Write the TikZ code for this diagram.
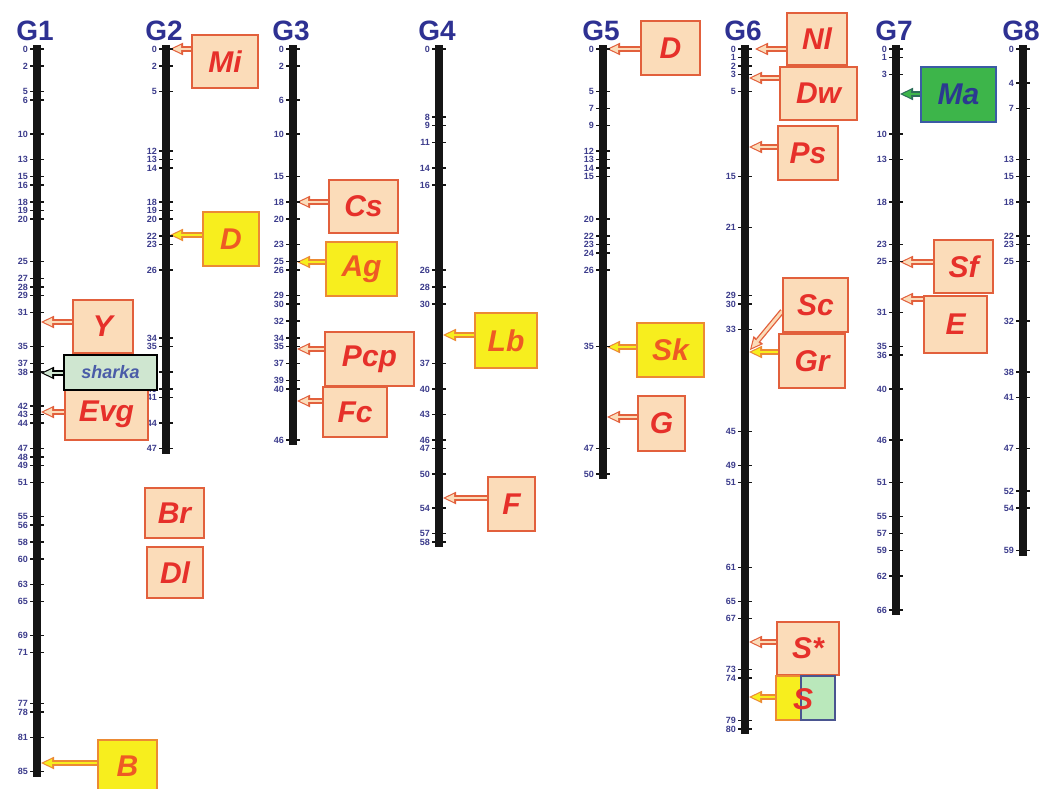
\documentclass[tikz,border=0pt]{standalone}
\usepackage{fontspec}
\setmainfont{Liberation Sans}
\usetikzlibrary{arrows.meta,backgrounds,calc}
\definecolor{navy}{HTML}{2E3192}
\definecolor{lbl}{HTML}{3C3C8C}
\definecolor{peach}{HTML}{FBDCB9}
\definecolor{pborder}{HTML}{E2603C}
\definecolor{ptext}{HTML}{E6302A}
\definecolor{ylw}{HTML}{F7EE1E}
\definecolor{yborder}{HTML}{EC8A34}
\definecolor{ytext}{HTML}{EE5A24}
\definecolor{lgreen}{HTML}{CFE6D0}
\definecolor{mgreen}{HTML}{3DB54A}
\definecolor{mblue}{HTML}{3B5BA5}
\definecolor{stext}{HTML}{4A5CA8}
\definecolor{matext}{HTML}{2B3990}
\definecolor{sgborder}{HTML}{4A5590}
\definecolor{barc}{HTML}{151515}
\definecolor{maarrow}{HTML}{2C6E5A}
\tikzset{
  chtitle/.style={font=\bfseries\fontsize{28}{28}\selectfont, text=navy, inner sep=0pt, anchor=base},
  cmlab/.style={font=\bfseries\fontsize{9}{9}\selectfont, text=lbl, anchor=east, inner sep=0pt},
  chbar/.style={fill=barc, draw=none},
  chtick/.style={line width=1.4pt, draw=barc},
  pbox/.style={draw=pborder, fill=peach, line width=1.3pt, text=ptext,
    font=\bfseries\itshape\fontsize{30}{30}\selectfont, inner sep=0pt},
  ybox/.style={pbox, draw=yborder, fill=ylw, text=ytext},
  shbox/.style={pbox, draw=black, line width=1.6pt, fill=lgreen, text=stext,
    font=\bfseries\itshape\fontsize{18}{18}\selectfont},
  mabox/.style={pbox, draw=mblue, fill=mgreen, text=matext},
  aouter/.style={line width=5.4pt, -{Triangle[length=13pt,width=12.5pt,line width=0pt]}},
  ainner/.style={line width=2.8pt, shorten >=2.6pt, -{Triangle[length=8.6pt,width=8.2pt,line width=0pt]}},
}
\newcommand{\chrom}[4]{%
  \fill[chbar] (#2-3.8,45) rectangle (#2+3.8,{49+8.5*#3+5});
  \foreach \v in {#4} {
    \draw[chtick] (#2-7,{49+8.5*\v}) -- (#2+7,{49+8.5*\v});
    \node[cmlab] (#1l\v) at (#2-9,{49+8.5*\v}) {\v};
  }
  \node[chtitle] (#1) at (#2-2,41) {#1};
}
\newcommand{\markarrow}[4]{%
  \begin{pgfonlayer}{background}
  \draw[aouter, draw=#3, fill=#3] (#1) -- (#2);
  \draw[ainner, draw=#4, fill=#4] (#1) -- (#2);
  \end{pgfonlayer}
}
\begin{document}
\begin{tikzpicture}[x=1pt,y=-1pt]
\begin{pgfonlayer}{background}
\fill[white] (0,0) rectangle (1041,789);
\end{pgfonlayer}
\useasboundingbox (0,0) rectangle (1041,789);

% chromosomes
\chrom{G1}{37}{85}{0,2,5,6,10,13,15,16,18,19,20,25,27,28,29,31,35,37,38,42,43,44,47,48,49,51,55,56,58,60,63,65,69,71,77,78,81,85}
\chrom{G2}{166}{47}{0,2,5,12,13,14,18,19,20,22,23,26,34,35,38,40,41,44,47}
\chrom{G3}{293}{46}{0,2,6,10,15,18,20,23,25,26,29,30,32,34,35,37,39,40,46}
\chrom{G4}{439}{58}{0,8,9,11,14,16,26,28,30,37,40,43,46,47,50,54,57,58}
\chrom{G5}{603}{50}{0,5,7,9,12,13,14,15,20,22,23,24,26,35,47,50}
\chrom{G6}{745}{80}{0,1,2,3,5,15,21,29,30,33,45,49,51,61,65,67,73,74,79,80}
\chrom{G7}{896}{66}{0,1,3,10,13,18,23,25,31,35,36,40,46,51,55,57,59,62,66}
\chrom{G8}{1023}{59}{0,4,7,13,15,18,22,23,25,32,38,41,47,52,54,59}

% ---------- G1 ----------
\node[pbox, minimum width=60pt, minimum height=53pt] (Y) at (103,326.5) {Y};
\node[pbox, minimum width=83pt, minimum height=52pt] (Evg) at (106.5,414) {Evg};
\node[shbox, minimum width=93pt, minimum height=35pt] (sharka) at (110.5,372.5) {sharka};
\node[ybox, minimum width=59pt, minimum height=52pt] (B) at (127.5,766) {B};
\coordinate (tY) at (41,322);
\coordinate (tEvg) at (41,412);
\coordinate (tsharka) at (41,373);
\coordinate (tB) at (41,763);
\markarrow{Y.west |- tY}{tY}{pborder}{peach}
\markarrow{Evg.west |- tEvg}{tEvg}{pborder}{peach}
\markarrow{sharka.west |- tsharka}{tsharka}{black}{lgreen}
\markarrow{B.west |- tB}{tB}{yborder}{ylw}

% ---------- G2 ----------
\node[pbox, minimum width=66pt, minimum height=53pt] (Mi) at (225,61.5) {Mi};
\node[ybox, minimum width=56pt, minimum height=54pt] (D2) at (231,239) {D};
\node[pbox, minimum width=59pt, minimum height=50pt] (Br) at (174.5,513) {Br};
\node[pbox, minimum width=56pt, minimum height=51pt] (Dl) at (175,572.5) {Dl};
\coordinate (tMi) at (170,49);
\coordinate (tD2) at (170,235);
\markarrow{Mi.west |- tMi}{tMi}{pborder}{peach}
\markarrow{D2.west |- tD2}{tD2}{yborder}{ylw}

% ---------- G3 ----------
\node[pbox, minimum width=69pt, minimum height=53pt] (Cs) at (363.5,206.5) {Cs};
\node[ybox, minimum width=71pt, minimum height=54pt] (Ag) at (361.5,269) {Ag};
\node[pbox, minimum width=89pt, minimum height=54pt] (Pcp) at (369.5,359) {Pcp};
\node[pbox, minimum width=64pt, minimum height=50pt] (Fc) at (355,412) {Fc};
\coordinate (tCs) at (297,202);
\coordinate (tAg) at (297,262);
\coordinate (tPcp) at (297,349);
\coordinate (tFc) at (297,401);
\markarrow{Cs.west |- tCs}{tCs}{pborder}{peach}
\markarrow{Ag.west |- tAg}{tAg}{yborder}{ylw}
\markarrow{Pcp.west |- tPcp}{tPcp}{pborder}{peach}
\markarrow{Fc.west |- tFc}{tFc}{pborder}{peach}

% ---------- G4 ----------
\node[ybox, minimum width=62pt, minimum height=55pt] (Lb) at (506,340.5) {Lb};
\node[pbox, minimum width=47pt, minimum height=54pt] (F) at (511.5,504) {F};
\coordinate (tLb) at (443,335);
\coordinate (tF) at (443,498);
\markarrow{Lb.west |- tLb}{tLb}{yborder}{ylw}
\markarrow{F.west |- tF}{tF}{pborder}{peach}

% ---------- G5 ----------
\node[pbox, minimum width=59pt, minimum height=54pt] (D5) at (670.5,48) {D};
\node[ybox, minimum width=67pt, minimum height=54pt] (Sk) at (670.5,350) {Sk};
\node[pbox, minimum width=47pt, minimum height=55pt] (G) at (661.5,423.5) {G};
\coordinate (tD5) at (607,49);
\coordinate (tSk) at (607,347);
\coordinate (tG) at (607,417);
\markarrow{D5.west |- tD5}{tD5}{pborder}{peach}
\markarrow{Sk.west |- tSk}{tSk}{yborder}{ylw}
\markarrow{G.west |- tG}{tG}{pborder}{peach}

% ---------- G6 ----------
\node[pbox, minimum width=60pt, minimum height=52pt] (Nl) at (817,39) {Nl};
\node[pbox, minimum width=77pt, minimum height=53pt] (Dw) at (818.5,93.5) {Dw};
\node[pbox, minimum width=60pt, minimum height=54pt] (Ps) at (808,153) {Ps};
\node[pbox, minimum width=65pt, minimum height=54pt] (Sc) at (815.5,305) {Sc};
\node[pbox, minimum width=66pt, minimum height=54pt] (Gr) at (812,361) {Gr};
\node[pbox, minimum width=62pt, minimum height=53pt] (Sstar) at (808,648.5) {S*};
\node[pbox, draw=yborder, fill=ylw, minimum width=25pt, minimum height=44pt] (Sy) at (788.5,698) {};
\node[pbox, draw=sgborder, fill=lgreen!90!green, minimum width=34pt, minimum height=44pt] (Sg) at (818,698) {};
\node[pbox, draw=none, fill=none] (S) at (803,699) {S};
\coordinate (tNl) at (755,49);
\coordinate (tDw) at (749,78);
\coordinate (tPs) at (749,147);
\coordinate (sSc) at ($(Sc.west)+(0,6)$);
\coordinate (tSc) at (750,350);
\coordinate (tGr) at (749,352);
\coordinate (tSstar) at (749,642);
\coordinate (tS) at (749,697);
\markarrow{Nl.west |- tNl}{tNl}{pborder}{peach}
\markarrow{Dw.west |- tDw}{tDw}{pborder}{peach}
\markarrow{Ps.west |- tPs}{tPs}{pborder}{peach}
\markarrow{sSc}{tSc}{pborder}{peach}
\markarrow{Gr.west |- tGr}{tGr}{yborder}{ylw}
\markarrow{Sstar.west |- tSstar}{tSstar}{pborder}{peach}
\markarrow{Sy.west |- tS}{tS}{yborder}{ylw}

% ---------- G7 ----------
\node[mabox, minimum width=75pt, minimum height=55pt] (Ma) at (958.5,94.5) {Ma};
\node[pbox, minimum width=59pt, minimum height=53pt] (Sf) at (963.5,266.5) {Sf};
\node[pbox, minimum width=63pt, minimum height=57pt] (E) at (955.5,324.5) {E};
\coordinate (tMa) at (900,94);
\coordinate (tSf) at (900,262);
\coordinate (tE) at (900,299);
\markarrow{Ma.west |- tMa}{tMa}{maarrow}{mgreen}
\markarrow{Sf.west |- tSf}{tSf}{pborder}{peach}
\markarrow{E.west |- tE}{tE}{pborder}{peach}
\end{tikzpicture}
\end{document}
